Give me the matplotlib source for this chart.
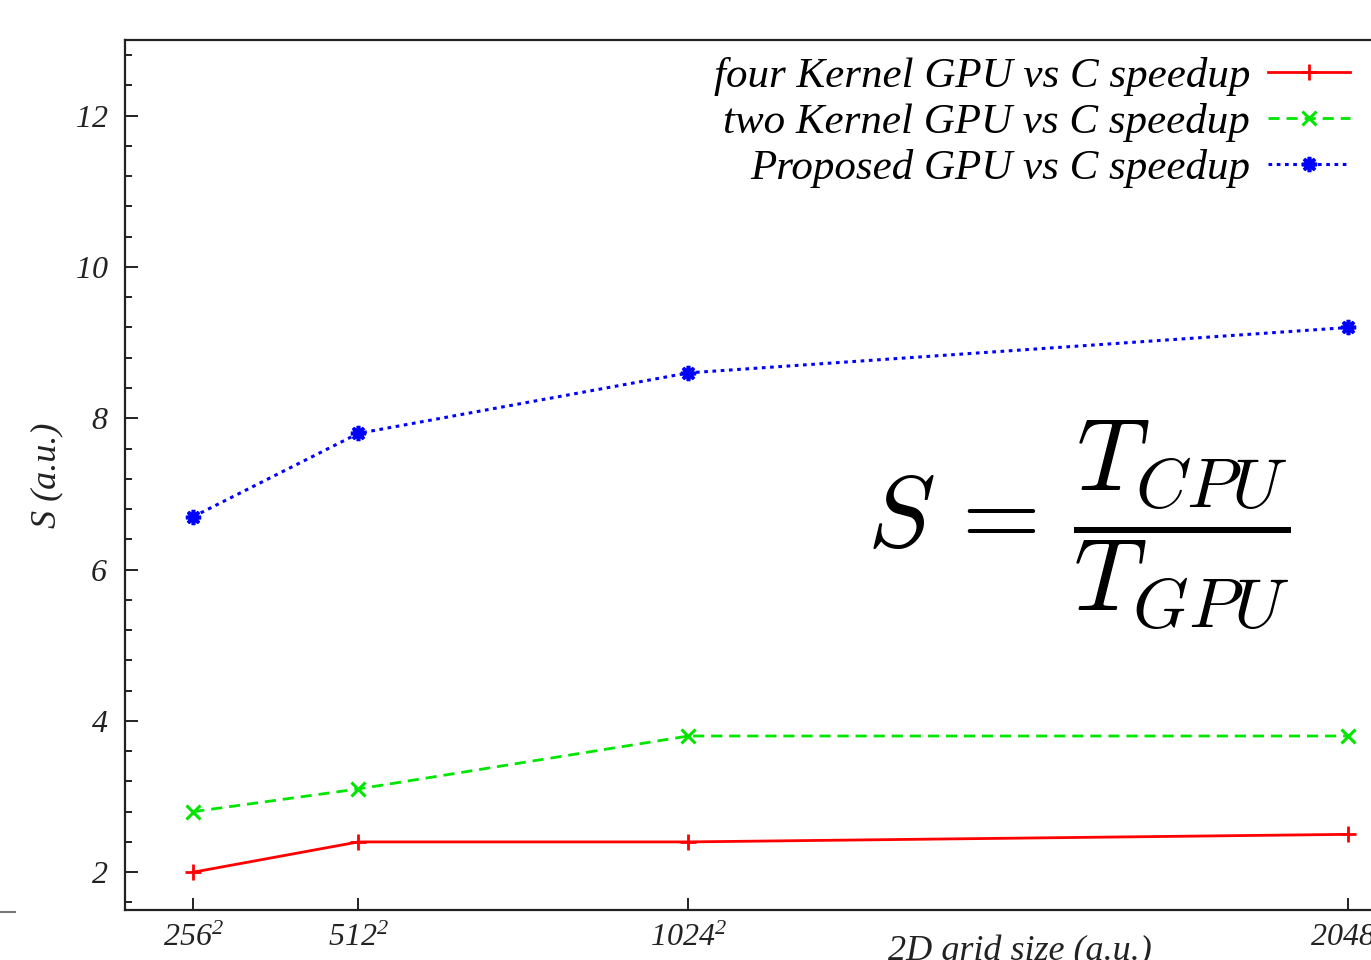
import matplotlib
matplotlib.use("Agg")
import matplotlib.pyplot as plt
from matplotlib.lines import Line2D
from matplotlib.ticker import MultipleLocator

# ---- data ----
grid_n = [256, 512, 1024, 2048]
tick_labels = [r"$\mathit{256}^{\mathit{2}}$", r"$\mathit{512}^{\mathit{2}}$",
               r"$\mathit{1024}^{\mathit{2}}$", r"$\mathit{2048}^{\mathit{2}}$"]
four_kernel = [2.0, 2.4, 2.4, 2.5]
two_kernel = [2.8, 3.1, 3.8, 3.8]
proposed = [6.7, 7.8, 8.6, 9.2]
series_labels = ["four Kernel GPU vs C speedup",
                 "two Kernel GPU vs C speedup",
                 "Proposed GPU vs C speedup"]
y_ticks = [2, 4, 6, 8, 10, 12]

plt.rcParams['font.family'] = ['Liberation Serif', 'DejaVu Serif']
plt.rcParams['font.style'] = 'italic'
plt.rcParams['mathtext.fontset'] = 'custom'
plt.rcParams['mathtext.rm'] = 'Liberation Serif'
plt.rcParams['mathtext.it'] = 'Liberation Serif:italic'
plt.rcParams['mathtext.bf'] = 'Liberation Serif:bold'

W, H = 1371, 960
fig = plt.figure(figsize=(W / 100, H / 100), dpi=100)
left_px, right_px, top_px, bottom_px = 125, 1382, 40, 910
ax = fig.add_axes([left_px / W, 1 - bottom_px / H,
                   (right_px - left_px) / W, (bottom_px - top_px) / H])

ax.plot(grid_n, four_kernel, color='#ff0000', lw=2.0, ls='-',
        marker='+', ms=12, mew=2.0, label=series_labels[0])
ax.plot(grid_n, two_kernel, color='#00e600', lw=2.0, ls=(0, (4, 2.5)),
        marker='x', ms=10, mew=2.2, label=series_labels[1])
ax.plot(grid_n, proposed, color='#0000ff', lw=2.2, ls=(0, (1.2, 1.5)),
        marker=(8, 2, 0), ms=11, mew=2.6, label=series_labels[2])

ax.set_xlim(150, 2100)
ax.set_ylim(1.5, 13)
ax.set_xticks(grid_n)
ax.set_xticklabels(tick_labels)
ax.set_yticks(y_ticks)
ax.set_yticklabels([f"${{\\mathit{{{v}}}}}$" for v in y_ticks])
ax.yaxis.set_minor_locator(MultipleLocator(0.4))

for s in ax.spines.values():
    s.set_linewidth(1.6)
    s.set_color('#222222')

ax.tick_params(axis='both', which='major', direction='in', length=9, width=1.4,
               labelsize=23, colors='#222222', labelcolor='#222222')
ax.tick_params(axis='x', pad=10)
ax.tick_params(axis='y', pad=12)
ax.tick_params(axis='y', which='minor', direction='in', length=5, width=1.4,
               colors='#222222')

ax.set_ylabel("S (a.u.)", fontsize=26, color='#222222')
ax.yaxis.set_label_coords(-(125 - 63) / (right_px - left_px), 0.5)
ax.set_xlabel("2D grid size (a.u.)", fontsize=26, color='#222222')
ax.xaxis.set_label_coords((1020 - left_px) / (right_px - left_px),
                          -(935 - bottom_px) / (bottom_px - top_px))
ax.xaxis.label.set_va('top')

leg = ax.legend(loc='upper right', bbox_to_anchor=(1350 / W, 1 - 57 / H),
                bbox_transform=fig.transFigure, frameon=False, markerfirst=False,
                fontsize=31, handlelength=1.9, handletextpad=0.42,
                labelspacing=0.16, borderpad=0, borderaxespad=0)

fig.text(1079 / W, 1 - 526 / H, r"$S\,=\,\dfrac{T_{CPU}}{T_{GPU}}$",
         fontsize=73, ha='center', va='center', math_fontfamily='cm',
         style='normal')

fig.add_artist(Line2D([0, 15 / W], [1 - 912 / H] * 2, color='#777777', lw=1.5))

fig.savefig("out.png", dpi=100)
